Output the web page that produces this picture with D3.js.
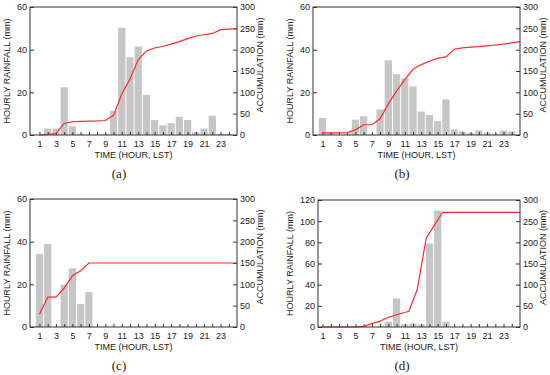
<!DOCTYPE html>
<html>
<head>
<meta charset="utf-8">
<script src="https://cdn.jsdelivr.net/npm/d3@7"></script>
<style>
  body { margin: 0; background: #fff; }
  svg { display: block; }
  text { font-family: "Liberation Sans", Arial, Helvetica, sans-serif; fill: #222; }
</style>
</head>
<body>
<svg id="chart" width="550" height="375"></svg>
<script>
// hours of the day (bars sit on these)
const hours = d3.range(1, 25);
const hourLabels = [1, 3, 5, 7, 9, 11, 13, 15, 17, 19, 21, 23];
const accTicks = [0, 50, 100, 150, 200, 250, 300];

// hourly rainfall (mm)
const rainA = [0, 3, 3, 22.4, 4, 0.5, 0, 0.3, 0.5, 11.3, 50.3, 36.5, 41.5, 18.8, 7, 4.5, 5.5, 8.5, 7, 1.5, 3, 9, 0.5, 0.5];
const rainB = [8, 1, 0, 0.3, 7.2, 8.8, 0.3, 12, 35, 28.5, 26.5, 22.8, 11, 9.4, 6.5, 16.7, 2.7, 1.7, 1, 2.2, 1.1, 0.5, 2.1, 1.7];
const rainC = [34.2, 38.9, 0, 19.8, 27.5, 10.8, 16.4, 0, 0, 0, 0, 0, 0, 0, 0, 0, 0, 0, 0, 0, 0, 0, 0, 0];
const rainD = [0, 0, 0, 0, 0.3, 0.3, 0, 0.5, 5, 27, 2.5, 3.5, 2.5, 79, 110, 5, 0, 0, 0, 0, 0, 0, 0, 0];

// accumulation (mm) line: times and values
const accTimeA = [...hours, 25];
const accA = [0, 1.5, 3.5, 27, 31, 32, 32.5, 33, 34, 46, 96, 131, 177, 197, 204, 208, 213, 219, 226, 232, 235, 238, 247, 248, 249];
const accTimeB = [...hours, 25];
const accB = [5, 5, 5, 5.5, 12, 24, 24, 38, 73, 103, 130, 154, 165, 173, 180, 183, 201, 204, 206, 207, 209, 211, 213, 216, 219];
const accTimeC = [1, 2, 3, 4, 5, 6, 7, 25];
const accC = [30, 70, 70, 91, 120, 132, 150, 150];
const accTimeD = [1, 2, 3, 4, 5, 6, 7, 8, 9, 10, 11.5, 12.5, 13.6, 15.6, 25];
const accD = [0, 0, 0, 0, 0.5, 1.5, 8, 14, 23, 29, 37, 88, 210, 271, 271];

const svg = d3.select("#chart");

const panels = [
  { name: "(a)", rain: rainA, accT: accTimeA, acc: accA, rainMax: 60, rainTicks: [0, 20, 40, 60],
    left: 30, right: 237, top: 7, bottom: 135, xDomain: [-0.15, 25], ylx: 7, yrx: 260, letterX: 119 },
  { name: "(b)", rain: rainB, accT: accTimeB, acc: accB, rainMax: 60, rainTicks: [0, 20, 40, 60],
    left: 313, right: 520, top: 7, bottom: 135, xDomain: [-0.15, 25], ylx: 290, yrx: 543, letterX: 402 },
  { name: "(c)", rain: rainC, accT: accTimeC, acc: accC, rainMax: 60, rainTicks: [0, 20, 40, 60],
    left: 30, right: 237, top: 199, bottom: 327, xDomain: [-0.15, 25], ylx: 7, yrx: 260, letterX: 119 },
  { name: "(d)", rain: rainD, accT: accTimeD, acc: accD, rainMax: 120, rainTicks: [0, 20, 40, 60, 80, 100, 120],
    left: 318, right: 520, top: 200, bottom: 327, xDomain: [0.45, 25], ylx: 290, yrx: 543, letterX: 402 }
];

panels.forEach(drawPanel);

function drawPanel(p) {
  const g = svg.append("g");

  const x = d3.scaleLinear().domain(p.xDomain).range([p.left, p.right]);
  const yL = d3.scaleLinear().domain([0, p.rainMax]).range([p.bottom, p.top]);
  const yR = d3.scaleLinear().domain([0, 300]).range([p.bottom, p.top]);
  const bw = (x(2) - x(1)) * 0.88;

  g.append("g")
    .attr("fill", "#c6c6c6")
    .selectAll("rect")
    .data(hours.map((h, i) => ({ h, v: p.rain[i] })))
    .join("rect")
    .attr("x", d => x(d.h) - bw / 2)
    .attr("y", d => yL(d.v))
    .attr("width", bw)
    .attr("height", d => yL(0) - yL(d.v));

  // inward ticks on all sides
  const xAxis = g.append("g")
    .attr("transform", `translate(0,${p.bottom})`)
    .call(d3.axisBottom(x).tickValues(hours).tickSizeInner(-3).tickSizeOuter(0).tickPadding(6)
      .tickFormat(d => hourLabels.includes(d) ? d : ""));
  const lAxis = g.append("g")
    .attr("transform", `translate(${p.left},0)`)
    .call(d3.axisLeft(yL).tickValues(p.rainTicks).tickSizeInner(-4).tickSizeOuter(0).tickPadding(3));
  const rAxis = g.append("g")
    .attr("transform", `translate(${p.right},0)`)
    .call(d3.axisRight(yR).tickValues(accTicks).tickSizeInner(-4).tickSizeOuter(0).tickPadding(3));

  [xAxis, lAxis, rAxis].forEach(a => {
    a.select(".domain").remove();
    a.selectAll("line").attr("stroke", "#333");
    a.selectAll("text").style("font-size", "9px").attr("fill", "#222");
  });

  g.append("path")
    .datum(p.accT.map((t, i) => [t, p.acc[i]]))
    .attr("fill", "none")
    .attr("stroke", "#ff2a2a")
    .attr("stroke-width", 1.2)
    .attr("d", d3.line().x(d => x(d[0])).y(d => yR(d[1])));

  g.append("rect")
    .attr("x", p.left).attr("y", p.top)
    .attr("width", p.right - p.left).attr("height", p.bottom - p.top)
    .attr("fill", "none").attr("stroke", "#333").attr("stroke-width", 1);

  const mid = (p.top + p.bottom) / 2;
  g.append("text")
    .attr("transform", `translate(${p.ylx},${mid}) rotate(-90)`)
    .attr("text-anchor", "middle").attr("dy", "0.35em")
    .style("font-size", "9px")
    .text("HOURLY RAINFALL (mm)");
  g.append("text")
    .attr("transform", `translate(${p.yrx},${mid - 6}) rotate(-90)`)
    .attr("text-anchor", "middle").attr("dy", "0.35em")
    .style("font-size", "9px")
    .text("ACCUMULATION (mm)");

  g.append("text")
    .attr("x", (p.left + p.right) / 2).attr("y", p.bottom + 23)
    .attr("text-anchor", "middle")
    .style("font-size", "9px")
    .text("TIME (HOUR, LST)");

  g.append("text")
    .attr("x", p.letterX).attr("y", p.bottom + 43)
    .attr("text-anchor", "middle")
    .style("font-family", "'Liberation Serif', 'Times New Roman', serif")
    .style("font-size", "13px")
    .text(p.name);
}
</script>
</body>
</html>
